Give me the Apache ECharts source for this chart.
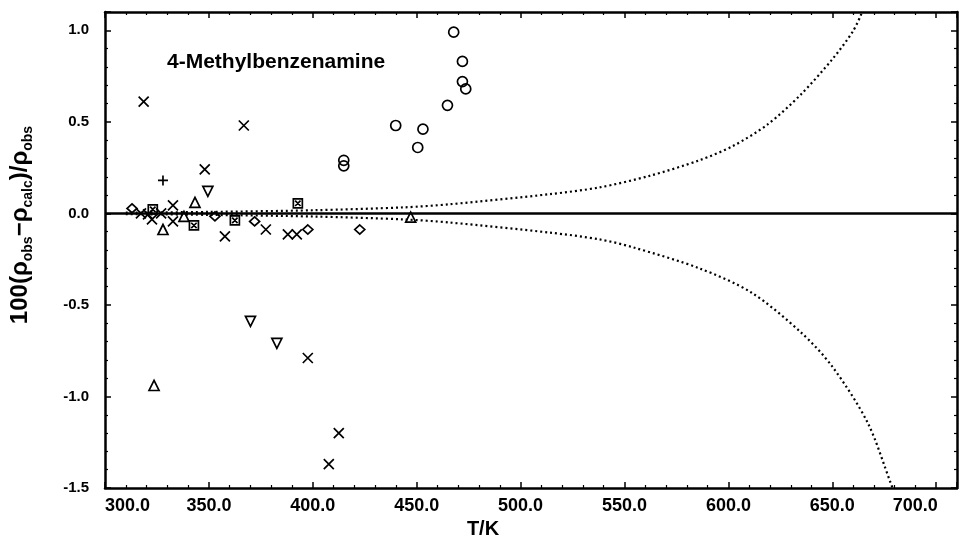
<!DOCTYPE html>
<html>
<head>
<meta charset="utf-8">
<script src="https://cdn.jsdelivr.net/npm/echarts@6/dist/echarts.min.js"></script>
<style>
html,body{margin:0;padding:0;background:#fff;}
#c{width:965px;height:556px;}
</style>
</head>
<body>
<div id="c"></div>
<script>
// ---- data (T in K, deviation in %) ----
var crossT = [318.6, 366.8, 348.0, 332.7, 332.7, 322.6, 317.3, 320.7, 327.0, 357.7, 377.4, 388.0, 392.3, 397.6, 412.5, 407.7];
var crossV = [0.61, 0.48, 0.24, 0.044, -0.044, -0.033, 0.0, -0.005, 0.0, -0.126, -0.088, -0.115, -0.115, -0.79, -1.20, -1.37];
var circleT = [467.8, 472.0, 472.0, 473.6, 464.8, 439.9, 453.0, 450.5, 414.9, 414.9];
var circleV = [0.99, 0.83, 0.72, 0.68, 0.59, 0.48, 0.46, 0.36, 0.29, 0.26];
var diamondT = [313.0, 352.9, 372.0, 397.6, 422.6];
var diamondV = [0.027, -0.016, -0.044, -0.088, -0.088];
var triUpT = [343.3, 327.9, 323.6, 338.0, 447.1];
var triUpV = [0.06, -0.088, -0.94, -0.016, -0.02];
var triDownT = [349.5, 370.0, 382.7];
var triDownV = [0.12, -0.59, -0.71];
var boxXT = [323.0, 342.8, 362.5, 392.8];
var boxXV = [0.022, -0.066, -0.038, 0.055];
var plusT = [327.9];
var plusV = [0.18];
var upperT = [310, 350, 400, 444, 466, 514, 538, 562, 586, 602, 619, 635, 650, 660, 664];
var upperV = [0.004, 0.008, 0.017, 0.033, 0.05, 0.105, 0.142, 0.205, 0.29, 0.367, 0.487, 0.651, 0.842, 0.996, 1.09];
var lowerT = [310, 350, 400, 444, 466, 514, 538, 554, 586, 611, 635, 650, 667, 678, 679];
var lowerV = [-0.004, -0.008, -0.017, -0.033, -0.05, -0.105, -0.142, -0.185, -0.3, -0.432, -0.651, -0.837, -1.143, -1.47, -1.5];
var zeroT = [300, 710];
var zeroV = [0, 0];
var xTicks = [300, 350, 400, 450, 500, 550, 600, 650, 700];
var yTicks = [-1.5, -1.0, -0.5, 0.0, 0.5, 1.0];
var titleText = '4-Methylbenzenamine';

function pairs(a, b) { return a.map(function (v, i) { return [v, b[i]]; }); }

var FONT = '"Liberation Sans", Arial, sans-serif';
var chart = echarts.init(document.getElementById('c'), null, {renderer: 'canvas'});

var tickCommon = {
  axisLine: {show: true, onZero: false, lineStyle: {color: '#000', width: 2.5}},
  axisTick: {show: true, inside: true, length: 6, lineStyle: {color: '#000', width: 1.5}},
  minorTick: {show: true, splitNumber: 5, length: 3, lineStyle: {color: '#000', width: 1.2}},
  splitLine: {show: false},
  minorSplitLine: {show: false}
};

function markerSeries(name, T, V, symbol, size, rotate) {
  return {
    type: 'scatter', name: name, data: pairs(T, V), symbol: symbol, symbolSize: size,
    symbolRotate: rotate || 0,
    itemStyle: {color: 'rgba(0,0,0,0)', borderColor: '#000', borderWidth: 1.7, opacity: 1},
    z: 5
  };
}

var option = {
  backgroundColor: '#fff',
  animation: false,
  title: {
    text: titleText, left: 162, top: 47,
    textStyle: {fontFamily: FONT, fontWeight: 'bold', fontSize: 21, color: '#000'}
  },
  grid: {left: 104, right: 8, top: 12, bottom: 68},
  xAxis: [
    Object.assign({
      type: 'value', min: 300, max: 710, interval: 50, position: 'bottom',
      name: 'T/K', nameLocation: 'middle', nameGap: 26,
      nameTextStyle: {fontFamily: FONT, fontWeight: 'bold', fontSize: 20, color: '#000', padding: [0, 96, 0, 0]},
      axisLabel: {
        show: true, margin: 9, showMaxLabel: false, alignMinLabel: 'left',
        fontFamily: FONT, fontWeight: 'bold', fontSize: 18, color: '#000',
        formatter: function (v) {
          if (xTicks.indexOf(v) < 0) return '';
          if (v === 700) return '{r|' + v.toFixed(1) + '}';
          return v.toFixed(1);
        },
        rich: {r: {fontFamily: FONT, fontWeight: 'bold', fontSize: 18, color: '#000', padding: [0, 42, 0, 0]}}
      }
    }, tickCommon),
    Object.assign({
      type: 'value', min: 300, max: 710, interval: 50, position: 'top',
      axisLabel: {show: false}
    }, tickCommon)
  ],
  yAxis: [
    Object.assign({
      type: 'value', min: -1.5, max: 1.1, interval: 0.5, position: 'left',
      name: '{n|100(ρ}{s|obs}{n|−ρ}{s|calc}{n|)/ρ}{s|obs}',
      nameLocation: 'middle', nameGap: 70,
      nameTextStyle: {
        color: '#000',
        padding: [0, 0, 0, 50],
        rich: {
          n: {fontFamily: FONT, fontWeight: 'bold', fontSize: 24, color: '#000', lineHeight: 30},
          s: {fontFamily: FONT, fontWeight: 'bold', fontSize: 14, color: '#000', verticalAlign: 'bottom', lineHeight: 30}
        }
      },
      axisLabel: {
        show: true, margin: 16, showMaxLabel: false,
        fontFamily: FONT, fontWeight: 'bold', fontSize: 15, color: '#000',
        formatter: function (v) {
          for (var i = 0; i < yTicks.length; i++) if (Math.abs(yTicks[i] - v) < 1e-9) return yTicks[i].toFixed(1);
          return '';
        }
      }
    }, tickCommon),
    Object.assign({
      type: 'value', min: -1.5, max: 1.1, interval: 0.5, position: 'right',
      axisLabel: {show: false}
    }, tickCommon)
  ],
  series: [
    {
      type: 'line', data: pairs(zeroT, zeroV), showSymbol: false, symbol: 'none',
      lineStyle: {color: '#000', width: 2.5}, z: 3, silent: true
    },
    {
      type: 'line', data: pairs(upperT, upperV), showSymbol: false, symbol: 'none', smooth: 0.3,
      lineStyle: {color: '#000', width: 2.2, type: [2, 3]}, z: 3, silent: true
    },
    {
      type: 'line', data: pairs(lowerT, lowerV), showSymbol: false, symbol: 'none', smooth: 0.3,
      lineStyle: {color: '#000', width: 2.2, type: [2, 3]}, z: 3, silent: true
    },
    markerSeries('cross', crossT, crossV, 'path://M0,0L10,10M10,0L0,10', 10),
    markerSeries('circle', circleT, circleV, 'circle', 10),
    markerSeries('diamond', diamondT, diamondV, 'diamond', [10, 9]),
    markerSeries('triUp', triUpT, triUpV, 'triangle', 10),
    markerSeries('triDown', triDownT, triDownV, 'triangle', 10, 180),
    markerSeries('boxX', boxXT, boxXV, 'path://M0,0L10,0L10,10L0,10ZM2,2L8,8M8,2L2,8', 9),
    markerSeries('plus', plusT, plusV, 'path://M5,0L5,10M0,5L10,5', 10)
  ]
};
chart.setOption(option);
</script>
</body>
</html>
